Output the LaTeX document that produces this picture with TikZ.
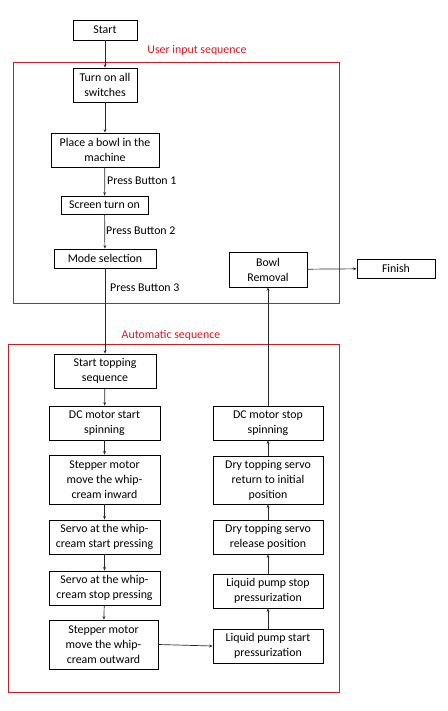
\documentclass[tikz,border=0pt]{standalone}
\usepackage{fontspec}
\setmainfont{Carlito}
\usetikzlibrary{arrows.meta}
\definecolor{boxred}{RGB}{200,30,40}
\definecolor{labred}{RGB}{225,20,30}
\definecolor{linegray}{RGB}{40,40,40}
\begin{document}
\begin{tikzpicture}[x=1bp,y=-1bp,
  font=\fontsize{11.9}{15}\selectfont,
  box/.style={draw=black,line width=0.8pt,rectangle,align=center,inner sep=1pt},
  flow/.style={draw=linegray,line width=0.7pt,-{Stealth[length=3.5pt,width=2.8pt]}},
  grp/.style={draw=boxred,line width=0.9pt},
  grplabel/.style={text=labred},
  note/.style={anchor=west,inner sep=0pt}]
\useasboundingbox (0,0) rectangle (448,711);
% group frames
\draw[grp] (13,62) rectangle (339,303);
\draw[grp] (8,344) rectangle (339,692);
\node[grplabel] (lab1) at (197,50) {User input sequence};
\node[grplabel] (lab2) at (171,335) {Automatic sequence};
% nodes
\node[box,minimum width=64bp,minimum height=20bp] (start) at (105,30) {Start};
\node[box,minimum width=64bp,minimum height=34bp] (turnon) at (105,85) {Turn on all\\switches};
\node[box,minimum width=108bp,minimum height=34bp] (bowl) at (105,150) {Place a bowl in the\\machine};
\node[box,minimum width=87bp,minimum height=18bp] (screen) at (104.5,205) {Screen turn on};
\node[box,minimum width=102bp,minimum height=19bp] (mode) at (105,258.5) {Mode selection};
\node[box,minimum width=78bp,minimum height=35bp] (removal) at (268,269.5) {Bowl\\Removal};
\node[box,minimum width=78bp,minimum height=19bp] (finish) at (396,268.5) {Finish};
\node[box,minimum width=102bp,minimum height=34bp] (topping) at (105,371) {Start topping\\sequence};
\node[box,minimum width=111bp,minimum height=34bp] (dcstart) at (104.5,423) {DC motor start\\spinning};
\node[box,minimum width=111bp,minimum height=49bp] (stepin) at (104.5,479.5) {Stepper motor\\move the whip-\\cream inward};
\node[box,minimum width=111bp,minimum height=34bp] (servostart) at (104.5,537) {Servo at the whip-\\cream start pressing};
\node[box,minimum width=111bp,minimum height=34bp] (servostop) at (104.5,588) {Servo at the whip-\\cream stop pressing};
\node[box,minimum width=109bp,minimum height=49bp] (stepout) at (103.5,644.5) {Stepper motor\\move the whip-\\cream outward};
\node[box,minimum width=110bp,minimum height=34bp] (pumpstart) at (268,646) {Liquid pump start\\pressurization};
\node[box,minimum width=110bp,minimum height=34bp] (pumpstop) at (268,591) {Liquid pump stop\\pressurization};
\node[box,minimum width=110bp,minimum height=34bp] (release) at (268,537) {Dry topping servo\\release position};
\node[box,minimum width=110bp,minimum height=48bp] (return) at (268,480) {Dry topping servo\\return to initial\\position};
\node[box,minimum width=110bp,minimum height=34bp] (dcstop) at (268,423) {DC motor stop\\spinning};
% labels
\node[note] (pb1) at (107,181) {Press Button 1};
\node[note] (pb2) at (106,231) {Press Button 2};
\node[note] (pb3) at (110,288) {Press Button 3};
% connectors
\draw[flow] (start) -- (turnon);
\draw[flow] (turnon) -- (bowl);
\draw[flow] (bowl) -- (screen);
\draw[flow] (screen) -- (mode);
\draw[flow] (mode) -- (topping);
\draw[flow] (topping) -- (dcstart);
\draw[flow] (dcstart) -- (stepin);
\draw[flow] (stepin) -- (servostart);
\draw[flow] (servostart) -- (servostop);
\draw[flow] (servostop) -- (stepout);
\draw[flow] (stepout.east) -- (pumpstart.west);
\draw[flow] (pumpstart) -- (pumpstop);
\draw[flow] (pumpstop) -- (release);
\draw[flow] (release) -- (return);
\draw[flow] (return) -- (dcstop);
\draw[flow] (dcstop) -- (removal);
\draw[flow] (removal) -- (finish);
\end{tikzpicture}
\end{document}
